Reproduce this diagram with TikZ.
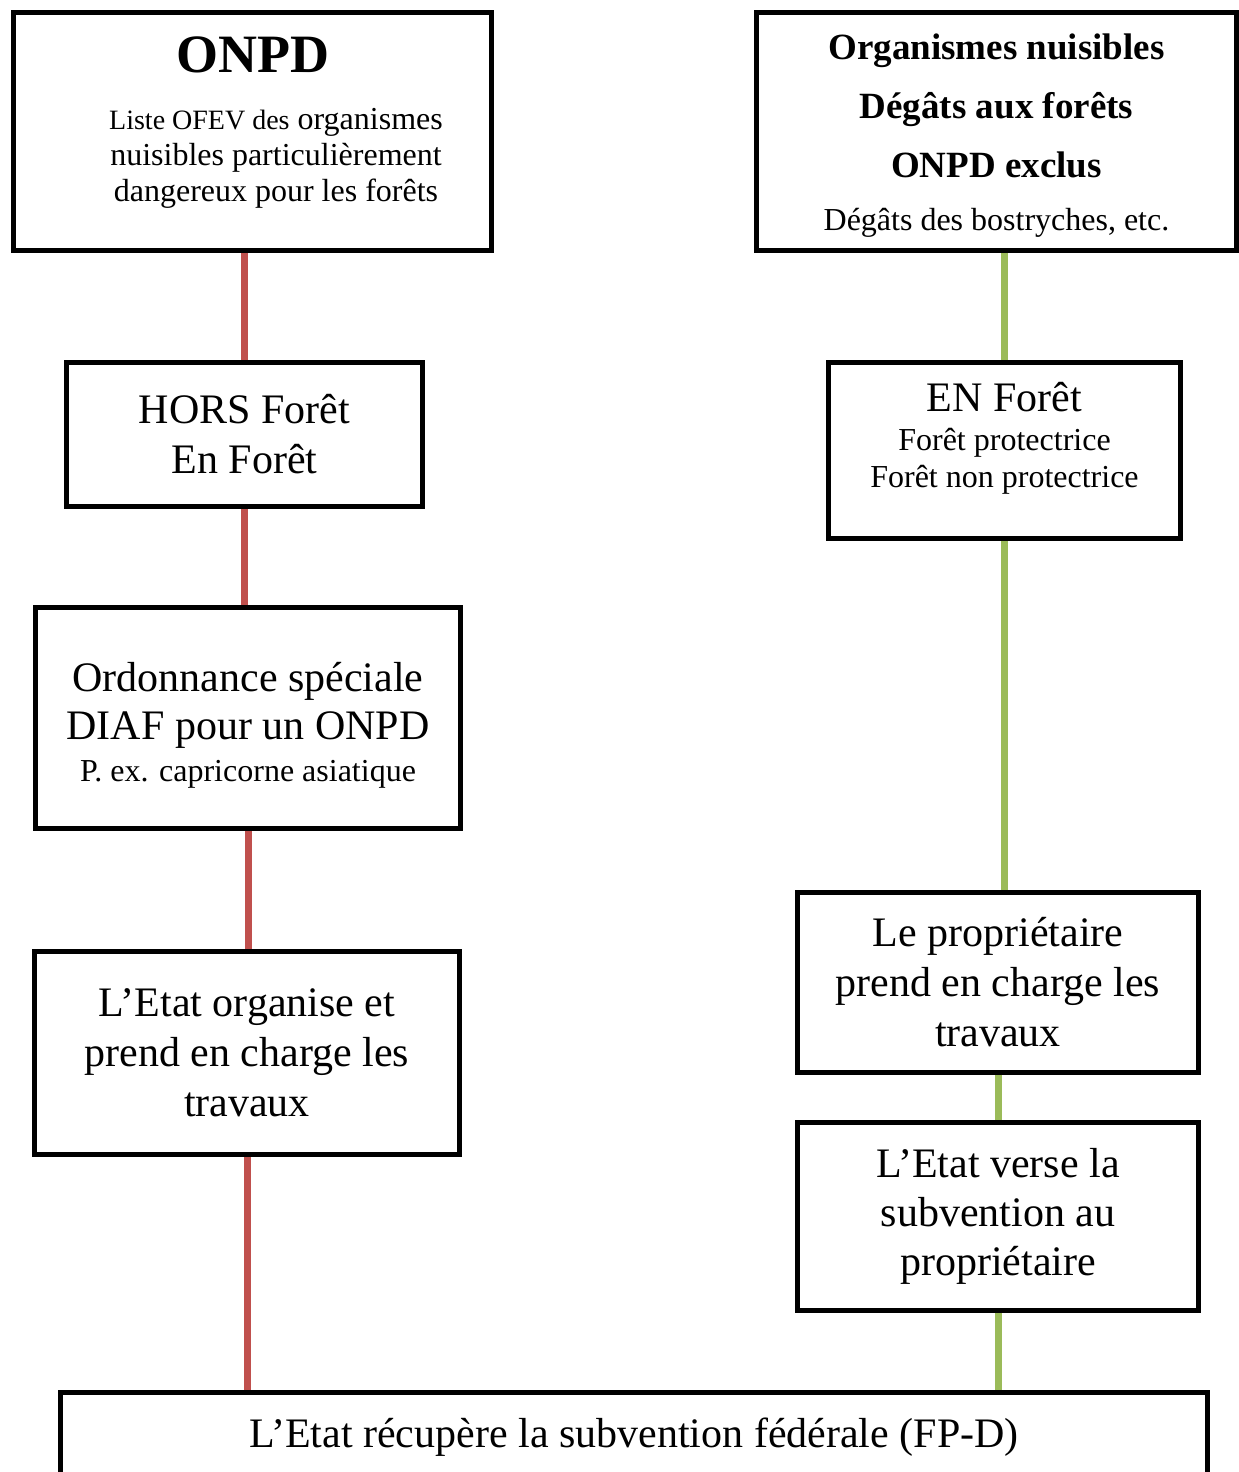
\documentclass[tikz,border=0pt]{standalone}
\usepackage{fontspec}
\setmainfont{Liberation Serif}
\usetikzlibrary{backgrounds}
\definecolor{linkred}{HTML}{C0504D}
\definecolor{linkgreen}{HTML}{9BBB59}
\newcommand{\fsz}[2]{\fontsize{#1}{#2}\selectfont}
\tikzset{
  box/.style={rectangle, draw, line width=5pt, fill=white, align=center, inner sep=0pt, font=\fsz{42}{50}},
  redlink/.style={draw=linkred, line width=7pt},
  greenlink/.style={draw=linkgreen, line width=7pt},
}

\begin{document}
\begin{tikzpicture}[x=1pt, y=-1pt]
  \useasboundingbox (0,0) rectangle (1239,1472);
  \clip (0,0) rectangle (1239,1472);

  % left column
  \node[box, minimum width=478pt, minimum height=238pt, font=\fsz{32}{36}] (onpd) at (252.5,131.5)
    {{\fsz{54}{60}\bfseries ONPD}\\[21pt]
     \hspace*{47pt}{\fsz{28}{36}Liste OFEV des} organismes\\
     \hspace*{47pt}nuisibles particulièrement\\
     \hspace*{47pt}dangereux pour les forêts\\[-11pt]\mbox{}};
  \node[box, minimum width=356pt, minimum height=144pt] (hors) at (244.5,434.5) {HORS Forêt\\En Forêt};
  \node[box, minimum width=425pt, minimum height=221pt, font=\fsz{42}{48}] (ordo) at (248,718)
    {\rule{0pt}{43pt}Ordonnance spéciale\\DIAF pour un ONPD\\[-6pt]{\fsz{32}{48}P. ex. capricorne asiatique}};
  \node[box, minimum width=425pt, minimum height=203pt] (etat) at (247,1053)
    {L’Etat organise et\\prend en charge les\\travaux};

  % right column
  \node[box, minimum width=480pt, minimum height=238pt, font=\fsz{37}{59}\bfseries] (nuisibles) at (996.5,131.5)
    {\rule{0pt}{34pt}Organismes nuisibles\\Dégâts aux forêts\\ONPD exclus\\[-6pt]{\mdseries\fsz{32}{59}Dégâts des bostryches, etc.}};
  \node[box, minimum width=352pt, minimum height=176pt, font=\fsz{32}{37}] (enforet) at (1004.5,450.5)
    {{\fsz{42}{50}EN Forêt}\\[2pt]Forêt protectrice\\Forêt non protectrice\\[-6pt]\mbox{}};
  \node[box, minimum width=401pt, minimum height=180pt] (proprio) at (998,982.5)
    {Le propriétaire\\prend en charge les\\travaux};
  \node[box, minimum width=401pt, minimum height=188pt, font=\fsz{42}{49}] (verse) at (998,1216.5)
    {L’Etat verse la\\subvention au\\propriétaire};

  % bottom
  \node[box, minimum width=1147pt, minimum height=89pt] (recup) at (634,1437)
    {L’Etat récupère la subvention fédérale (FP-D)};

  \begin{scope}[on background layer]
    \draw[redlink] (onpd.south -| hors.north) -- (hors.north);
    \draw[redlink] (hors.south) -- (hors.south |- ordo.north);
    \draw[redlink] (ordo.south) -- (ordo.south |- etat.north);
    \draw[redlink] (etat.south) -- (etat.south |- recup.north);
    \draw[greenlink] (enforet.north |- nuisibles.south) -- (enforet.north);
    \draw[greenlink] (enforet.south) -- (enforet.south |- proprio.north);
    \draw[greenlink] (proprio.south) -- (proprio.south |- verse.north);
    \draw[greenlink] (verse.south) -- (verse.south |- recup.north);
  \end{scope}
\end{tikzpicture}
\end{document}
